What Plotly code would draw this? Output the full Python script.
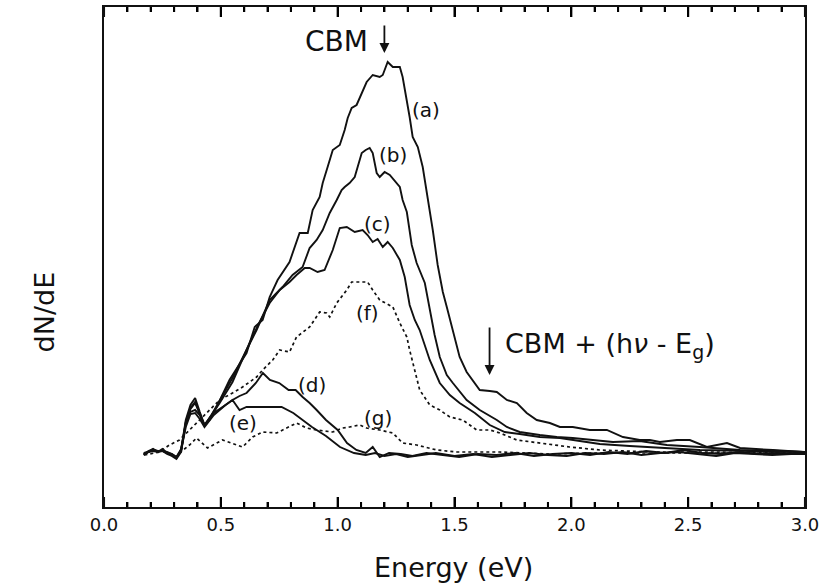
import plotly.graph_objects as go

# ---------------- data ----------------
bundle_E = [0.17, 0.19, 0.21, 0.23, 0.25, 0.27, 0.29, 0.31, 0.33, 0.35, 0.37, 0.39, 0.41, 0.43]

energy_a = bundle_E + [0.452, 0.482, 0.537, 0.610, 0.645, 0.679, 0.709, 0.743, 0.794, 0.837, 0.872, 0.893,
                       0.923, 0.936, 0.957, 0.979, 1.009, 1.030, 1.043, 1.060, 1.081, 1.103, 1.124, 1.150,
                       1.180, 1.193, 1.214, 1.236, 1.266, 1.278, 1.296, 1.308, 1.321, 1.343, 1.364, 1.385,
                       1.407, 1.428, 1.450, 1.467, 1.493, 1.522, 1.552, 1.578, 1.608, 1.651, 1.681, 1.724,
                       1.767, 1.809, 1.852, 1.908, 1.951, 2.006, 2.079, 2.152, 2.221, 2.293, 2.336, 2.379,
                       2.452, 2.507, 2.580, 2.666, 2.722, 2.863, 2.991]
dnde_a = [10.6, 11.2, 11.6, 11.0, 11.4, 10.8, 10.4, 9.8, 11.4, 17.4, 20.4, 21.8, 19.0, 16.4,
          17.4, 20.0, 25.4, 30.8, 36.0, 37.4, 42.0, 45.4, 49.0, 54.8, 54.8, 59.4,
          62.0, 64.8, 68.0, 71.4, 72.4, 75.4, 77.8, 79.8, 80.4, 82.8, 85.0, 86.4,
          86.0, 86.4, 89.0, 88.0, 88.0, 86.0, 81.4, 78.0, 74.0, 72.0, 68.0, 62.0,
          55.4, 48.4, 43.0, 40.0, 35.4, 30.0, 27.0, 25.4, 23.4, 23.2, 23.0, 21.4,
          20.8, 18.8, 17.4, 16.8, 16.0, 16.0, 15.4, 15.4, 14.0, 13.4, 13.4, 13.0,
          13.4, 13.4, 12.0, 12.8, 11.8, 11.4, 11.0]

energy_b = bundle_E + [0.460, 0.495, 0.550, 0.610, 0.653, 0.709, 0.764, 0.807, 0.850, 0.880, 0.910, 0.936,
                       0.966, 0.996, 1.017, 1.030, 1.051, 1.073, 1.086, 1.103, 1.120, 1.137, 1.150, 1.167,
                       1.180, 1.201, 1.223, 1.253, 1.266, 1.278, 1.296, 1.317, 1.338, 1.373, 1.394, 1.415,
                       1.437, 1.467, 1.493, 1.552, 1.608, 1.681, 1.724, 1.779, 1.865, 1.938, 2.006, 2.092,
                       2.178, 2.293, 2.409, 2.550, 2.722, 2.893, 3.000]
dnde_b = [10.4, 11.0, 11.4, 11.2, 11.2, 10.6, 10.2, 9.6, 11.0, 16.8, 19.6, 20.8, 18.6, 16.2,
          18.4, 21.4, 25.8, 31.4, 35.4, 41.4, 44.0, 46.4, 48.0, 51.8, 53.4, 55.4,
          58.8, 61.4, 63.4, 64.0, 64.8, 66.0, 68.0, 70.8, 71.4, 71.8, 70.8, 66.8,
          66.0, 67.0, 66.4, 64.8, 64.0, 61.4, 59.0, 52.4, 48.8, 44.8, 39.4, 34.4,
          30.0, 26.4, 24.8, 21.4, 19.4, 17.4, 16.0, 15.0, 14.4, 14.0, 13.8, 13.4,
          13.0, 13.2, 12.4, 12.0, 11.4, 11.2, 11.0]

energy_c = bundle_E + [0.460, 0.495, 0.550, 0.623, 0.666, 0.709, 0.752, 0.794, 0.824, 0.859, 0.880, 0.914,
                       0.944, 0.979, 1.009, 1.039, 1.073, 1.107, 1.128, 1.150, 1.171, 1.193, 1.214, 1.236,
                       1.266, 1.287, 1.308, 1.330, 1.351, 1.394, 1.437, 1.480, 1.522, 1.587, 1.651, 1.715,
                       1.779, 1.865, 1.951, 2.036, 2.122, 2.250, 2.379, 2.550, 2.764, 3.000]
dnde_c = [10.8, 11.0, 11.2, 11.0, 11.6, 10.8, 10.6, 10.0, 11.2, 17.0, 19.8, 21.0, 18.8, 16.4,
          18.4, 20.8, 25.0, 32.8, 37.0, 40.8, 43.4, 45.0, 46.4, 47.8, 47.8, 47.0,
          47.4, 51.4, 55.8, 56.0, 55.0, 55.4, 54.4, 53.0, 53.6, 52.0, 53.0, 51.8,
          49.4, 46.0, 40.4, 37.4, 35.4, 29.4, 24.8, 22.4, 20.8, 18.8, 16.4, 15.0,
          14.6, 14.0, 13.8, 13.2, 12.6, 12.2, 11.8, 11.4, 11.2, 11.0]

energy_d = bundle_E + [0.47, 0.52, 0.55, 0.58, 0.61, 0.65, 0.68, 0.71, 0.75, 0.79, 0.82, 0.85, 0.88, 0.91,
                       0.95, 1.00, 1.04, 1.08, 1.12, 1.15, 1.18, 1.22, 1.27, 1.32, 1.38, 1.45, 1.52, 1.60,
                       1.68, 1.76, 1.84, 1.92, 2.00, 2.08, 2.16, 2.24, 2.32, 2.40, 2.48, 2.56, 2.64, 2.72,
                       2.80, 2.88, 2.96, 3.00]
dnde_d = [10.6, 11.0, 11.4, 11.2, 11.2, 11.0, 10.6, 10.0, 11.6, 16.6, 19.0, 19.4, 18.4, 16.4,
          18.8, 20.4, 21.4, 22.2, 22.8, 24.8, 26.8, 25.4, 24.8, 23.4, 23.4, 22.0, 20.8, 19.4,
          17.4, 15.4, 12.8, 11.4, 10.8, 12.0, 10.0, 10.8, 10.6, 10.2, 10.8, 10.4, 10.0, 10.6,
          10.4, 10.8, 10.2, 10.6, 10.8, 10.4, 11.0, 10.6, 11.2, 10.8, 11.4, 10.8, 10.6, 11.0,
          10.6, 10.8, 10.6, 10.8]

energy_e = bundle_E + [0.47, 0.52, 0.55, 0.58, 0.61, 0.65, 0.71, 0.76, 0.81, 0.85, 0.89, 0.95, 1.01, 1.07,
                       1.12, 1.16, 1.20, 1.25, 1.30, 1.36, 1.42, 1.50, 1.58, 1.66, 1.74, 1.82, 1.90, 1.98,
                       2.06, 2.14, 2.22, 2.30, 2.38, 2.46, 2.54, 2.62, 2.70, 2.78, 2.86, 2.94, 3.00]
dnde_e = [10.4, 11.0, 11.6, 11.0, 11.2, 10.8, 10.4, 9.8, 11.4, 16.0, 18.6, 18.8, 17.6, 16.0,
          18.4, 20.4, 21.4, 19.4, 20.0, 20.0, 20.0, 20.0, 18.8, 17.4, 16.0, 14.2, 12.0, 10.8,
          10.4, 10.8, 10.2, 10.6, 10.0, 10.4, 10.8, 10.2, 10.6, 10.0, 10.4, 10.8, 10.4, 10.2,
          10.8, 10.6, 11.0, 10.4, 10.8, 11.0, 10.6, 10.2, 10.8, 10.6, 10.4, 10.6, 10.6]

energy_f = [0.173, 0.238, 0.280, 0.323, 0.366, 0.409, 0.452, 0.495, 0.550, 0.593, 0.653, 0.679, 0.722,
            0.752, 0.794, 0.824, 0.880, 0.923, 0.953, 0.966, 0.996, 1.039, 1.060, 1.107, 1.128, 1.150,
            1.180, 1.236, 1.266, 1.296, 1.308, 1.351, 1.394, 1.437, 1.480, 1.535, 1.595, 1.651, 1.694,
            1.767, 1.865, 1.993, 2.122, 2.336, 2.550, 3.000]
dnde_f = [10.4, 11.0, 12.4, 13.4, 15.4, 17.4, 19.4, 21.4, 22.8, 24.0, 26.0, 27.4, 29.4,
          31.4, 31.0, 34.0, 36.0, 39.0, 38.8, 38.0, 40.8, 43.4, 45.0, 45.0, 45.0, 43.4,
          41.4, 40.0, 36.8, 34.0, 31.4, 23.4, 20.4, 19.4, 18.0, 17.4, 15.4, 15.4, 14.8,
          13.4, 12.8, 12.0, 11.4, 11.0, 11.0, 10.8]

energy_g = [0.323, 0.366, 0.396, 0.443, 0.507, 0.593, 0.636, 0.679, 0.739, 0.782, 0.824, 0.867, 0.910,
            0.979, 1.021, 1.051, 1.094, 1.124, 1.180, 1.236, 1.278, 1.338, 1.424, 1.510, 1.694, 1.908,
            2.122, 2.550, 3.000]
dnde_g = [10.8, 12.4, 13.8, 11.8, 13.4, 12.0, 14.0, 15.0, 14.8, 15.8, 16.8, 15.8, 15.4,
          15.0, 15.8, 16.0, 16.4, 15.8, 15.4, 14.8, 12.8, 12.4, 11.4, 11.0, 11.0, 10.6,
          10.8, 10.8, 10.8]

curve_labels = ["(a)", "(b)", "(c)", "(d)", "(e)", "(f)", "(g)"]
label_E = [1.377, 1.236, 1.171, 0.889, 0.593, 1.128, 1.171]
label_Y = [79.4, 70.4, 56.6, 24.4, 16.8, 38.8, 17.8]

x_major_ticks = [0.0, 0.5, 1.0, 1.5, 2.0, 2.5, 3.0]
x_minor_ticks = [0.1, 0.2, 0.3, 0.4, 0.6, 0.7, 0.8, 0.9, 1.1, 1.2, 1.3, 1.4, 1.6, 1.7, 1.8, 1.9,
                 2.1, 2.2, 2.3, 2.4, 2.6, 2.7, 2.8, 2.9]

cbm_E = 1.20
cbm_shift_E = 1.65

# ---------------- figure ----------------
FONT = "DejaVu Sans"
Y_MIN, Y_MAX = 0, 100
MAJOR_LEN, MINOR_LEN = 2.0, 1.0   # tick lengths in y-axis units (10 px / 5 px)
TICK_W = 0.009                    # tick thickness in x units (about 2 px)

fig = go.Figure()

# inside tick marks drawn as thin filled bars on the bottom and top frame edges
for ticks, tlen in [(x_major_ticks, MAJOR_LEN), (x_minor_ticks, MINOR_LEN)]:
    fig.add_trace(go.Bar(x=ticks, y=[tlen] * len(ticks), base=[Y_MIN] * len(ticks),
                         width=[TICK_W] * len(ticks), marker=dict(color="#111111", line=dict(width=0)),
                         showlegend=False, hoverinfo="skip", cliponaxis=False))
    fig.add_trace(go.Bar(x=ticks, y=[tlen] * len(ticks), base=[Y_MAX - tlen] * len(ticks),
                         width=[TICK_W] * len(ticks), marker=dict(color="#111111", line=dict(width=0)),
                         showlegend=False, hoverinfo="skip", cliponaxis=False))

solid = dict(color="#111111", width=1.9)
dotted = dict(color="#111111", width=1.7, dash="dot")

for ex, ey, ln in [
    (energy_a, dnde_a, solid),
    (energy_b, dnde_b, solid),
    (energy_c, dnde_c, solid),
    (energy_d, dnde_d, solid),
    (energy_e, dnde_e, solid),
    (energy_f, dnde_f, dotted),
    (energy_g, dnde_g, dotted),
]:
    fig.add_trace(go.Scatter(x=ex, y=ey, mode="lines", line=ln, showlegend=False,
                             hoverinfo="skip"))

for t, ex, ey in zip(curve_labels, label_E, label_Y):
    fig.add_annotation(x=ex, y=ey, xref="x", yref="y", text=t, showarrow=False,
                       font=dict(family=FONT, size=20, color="#111111"))

# CBM arrow + text
fig.add_annotation(x=cbm_E, y=90.8, ax=cbm_E, ay=96.6, xref="x", yref="y",
                   axref="x", ayref="y", text="", showarrow=True, arrowhead=2,
                   arrowsize=1.1, arrowwidth=1.8, arrowcolor="#111111")
fig.add_annotation(x=0.996, y=93.2, xref="x", yref="y", text="CBM", showarrow=False,
                   font=dict(family=FONT, size=28, color="#111111"))

fig.add_annotation(x=cbm_shift_E, y=26.4, ax=cbm_shift_E, ay=36.2, xref="x", yref="y",
                   axref="x", ayref="y", text="", showarrow=True, arrowhead=2,
                   arrowsize=1.1, arrowwidth=1.8, arrowcolor="#111111")
fig.add_annotation(x=1.706, y=32.4, xref="x", yref="y", xanchor="left",
                   text="CBM + (h<i>ν</i> - E<sub>g</sub>)", showarrow=False,
                   font=dict(family=FONT, size=27, color="#111111"))

# axis titles
fig.add_annotation(x=0.499, y=-0.12, xref="paper", yref="paper", text="Energy (eV)",
                   showarrow=False, yanchor="middle",
                   font=dict(family=FONT, size=27, color="#111111"))
fig.add_annotation(x=-0.110, y=0.39, xref="paper", yref="paper", text="dN/dE",
                   textangle=-90, showarrow=False,
                   font=dict(family=FONT, size=27, color="#111111"))

fig.update_layout(
    barmode="overlay",
    xaxis=dict(range=[0, 3.0], tickmode="array", tickvals=x_major_ticks,
               ticktext=[f"{v:.1f}" for v in x_major_ticks],
               ticks="inside", ticklen=10, tickwidth=2, tickcolor="#000000",
               minor=dict(tickmode="array", tickvals=x_minor_ticks, ticks="inside",
                          ticklen=5, tickwidth=1.8, tickcolor="#000000"),
               showline=True, linewidth=2, linecolor="#111111",
               mirror="allticks", showgrid=False, zeroline=False, automargin=False,
               tickfont=dict(family=FONT, size=18, color="#111111")),
    yaxis=dict(range=[Y_MIN, Y_MAX], showticklabels=False, ticks="", showline=True,
               linewidth=2, linecolor="#111111", mirror=True, showgrid=False,
               zeroline=False, automargin=False),
)

fig.update_layout(template="none", width=822, height=585,
                  margin=dict(l=104, r=17, t=7, b=78),
                  plot_bgcolor="white", paper_bgcolor="white",
                  font=dict(family=FONT, color="#111111"))

fig.write_html("out.html", config={"displayModeBar": False},
               post_script="document.body.style.margin='0';"
                           "document.documentElement.style.overflow='hidden';")
